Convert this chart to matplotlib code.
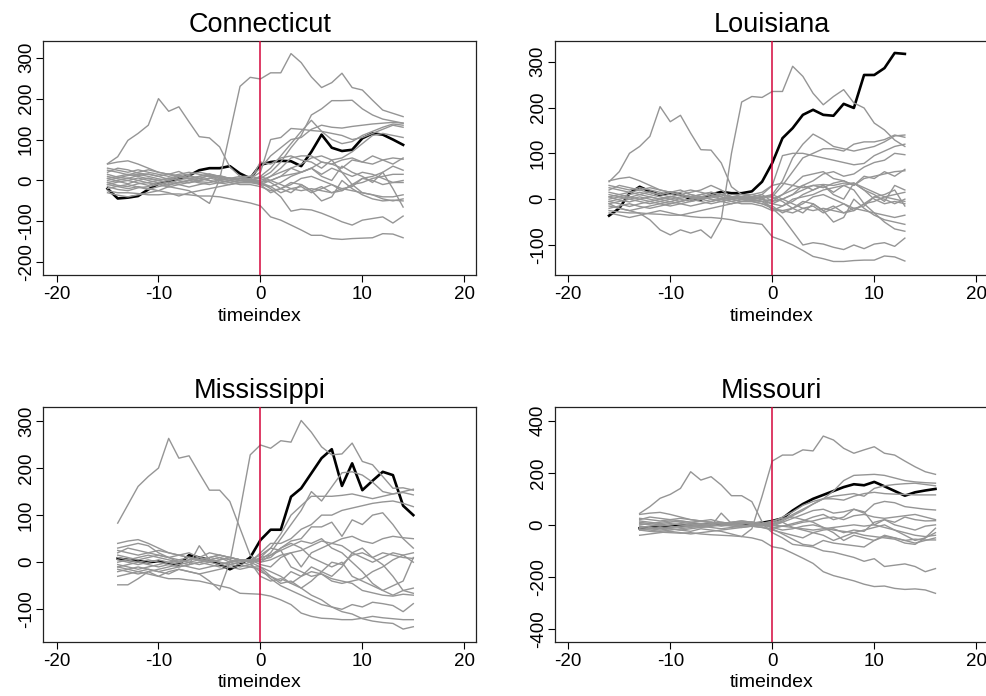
import matplotlib
matplotlib.use("Agg")
import matplotlib.pyplot as plt

plt.rcParams['font.family'] = ['Liberation Sans', 'DejaVu Sans']
plt.rcParams['axes.unicode_minus'] = False

# ---------------- data ----------------
titles = ["Connecticut", "Louisiana", "Mississippi", "Missouri"]
start_index = [-15, -16, -14, -13]          # first timeindex of each panel (30 points each)
xticks = [-20, -10, 0, 10, 20]
yticks_ct = [-200, -100, 0, 100, 200, 300]
yticks_la = [-100, 0, 100, 200, 300]
yticks_ms = [-100, 0, 100, 200, 300]
yticks_mo = [-400, -200, 0, 200, 400]

# Connecticut (t = -15 .. 14)
ct_treated = [-20, -44, -42, -38, -22, -8, -2, 5, 12, 25, 30, 30, 35, 17, 5] + \
             [38, 45, 48, 47, 35, 70, 112, 80, 72, 75, 103, 115, 112, 100, 87]
ct_p01 = [41, 58, 98, 115, 135, 200, 169, 180, 143, 107, 104, 82, 33, 10, 2] + [-5, 0, 10, 15, 20, 30, 45, 40, 50, 55, 45, 40, 50, 55, 52]
ct_p02 = [-10, -15, -20, -15, -20, -25, -15, -20, -25, -40, -56, 3, 116, 230, 252] + [248, 263, 263, 310, 288, 253, 227, 239, 262, 227, 221, 196, 172, 164, 156]
ct_p03 = [-25, -30, -30, -32, -35, -35, -33, -33, -35, -38, -38, -40, -45, -50, -55] + [-62, -89, -97, -109, -121, -134, -134, -142, -144, -142, -141, -140, -130, -131, -140]
ct_p04 = [5, -2, -8, 0, 6, 0, -7, 2, 5, -3, -5, 2, 6, 0, -3] + [-5, -20, -40, -75, -70, -72, -80, -90, -101, -109, -97, -93, -89, -104, -87]
ct_p05 = [15, 8, 5, 12, 16, 10, 3, 10, 6, 0, 5, 12, 5, 0, 2] + [5, 20, 45, 80, 110, 160, 175, 195, 195, 196, 175, 160, 150, 145, 140]
ct_p06 = [-5, -12, -15, -8, -5, 0, 6, 0, -6, 0, 5, 10, 4, 0, 0] + [10, 30, 60, 90, 120, 147, 120, 100, 90, 95, 110, 120, 130, 138, 135]
ct_p07 = [20, 30, 26, 18, 15, 10, 16, 10, 4, 10, 15, 8, 5, 5, 5] + [20, 100, 105, 127, 125, 122, 120, 115, 110, 100, 105, 115, 125, 135, 130]
ct_p08 = [-20, -14, -10, -16, -22, -15, -10, -4, 0, -6, -10, -5, 0, 6, 0] + [0, 10, 20, 30, 40, 55, 60, 50, 55, 70, 90, 110, 115, 110, 105]
ct_p09 = [40, 45, 48, 40, 30, 20, 15, 22, 10, 5, 12, 0, 5, 0, 5] + [-5, 10, 30, 55, 60, 60, 45, 40, 30, 50, 45, 60, 50, 40, 55]
ct_p10 = [10, 4, 0, -6, -12, -5, 0, 6, 12, 5, 0, -6, 0, 5, 0] + [-10, -15, -5, 10, 20, 30, 10, 0, 35, 20, 10, -5, 20, 35, 25]
ct_p11 = [-10, -4, 0, 6, 0, -6, -12, -5, 0, 5, 0, -6, -10, -5, -5] + [-5, -15, -30, -20, -15, -30, -20, -10, -25, -10, 5, 0, -10, -5, 0]
ct_p12 = [0, 6, 12, 15, 10, 4, 0, -6, 0, 5, 12, 5, 0, -5, -5] + [10, 0, -10, -20, -25, -20, -25, -30, -20, -25, -30, -35, -40, -40, -35]
ct_p13 = [-15, -22, -25, -18, -15, -10, -4, -10, -16, -10, -5, 0, -5, -10, -10] + [-15, -25, -20, -30, -10, -25, -50, -40, 0, -20, -35, -45, -50, -48, -50]
ct_p14 = [25, 20, 14, 20, 26, 20, 15, 10, 4, 10, 16, 10, 5, 5, 10] + [5, -5, -20, -10, 5, 10, 0, -10, -20, -15, 5, 10, 20, -20, -65]
ct_p15 = [-5, 0, 6, 0, -6, -10, -16, -10, -5, 0, 6, 0, -5, 0, 5] + [-10, 0, 10, 30, 20, 30, 15, 30, 20, -10, -30, -35, -45, -50, -45]
ct_p16 = [5, 10, 15, 10, 4, 0, 5, 12, 15, 20, 15, 10, 5, 10, 10] + [30, 60, 80, 100, 105, 125, 135, 130, 128, 132, 135, 138, 140, 142, 140]
ct_p17 = [-30, -36, -40, -35, -30, -25, -30, -38, -30, -25, -20, -15, -10, -5, -5] + [-10, -30, -20, -5, -10, -25, -15, -30, -25, -10, -5, 5, 10, 15, 15]
ct_p18 = [30, 25, 20, 26, 20, 15, 10, 15, 20, 15, 10, 5, 0, -5, 0] + [45, 40, 55, 60, 50, 45, 30, 50, 20, 10, 20, 15, 5, -5, -5]

# Louisiana (t = -16 .. 13)
la_treated = [-36, -20, 13, 27, 17, 9, 14, 10, 0, -1, 10, 16, 13, 13, 17, 38] + \
             [79, 133, 155, 184, 195, 184, 182, 208, 199, 271, 271, 286, 319, 317]
la_p01 = [38, 60, 100, 115, 137, 202, 169, 183, 144, 108, 107, 79, 27, 10, 5, 0] + [-5, 0, 10, 20, 30, 25, 35, 40, 30, 45, 50, 55, 60, 62]
la_p02 = [-10, -20, -25, -31, -45, -67, -78, -67, -74, -67, -85, -45, 100, 212, 224, 222] + [235, 235, 290, 268, 231, 206, 224, 239, 210, 199, 166, 151, 129, 115]
la_p03 = [-25, -28, -30, -30, -32, -33, -35, -35, -38, -40, -40, -42, -45, -50, -52, -55] + [-82, -90, -100, -112, -125, -130, -136, -136, -134, -133, -133, -124, -126, -135]
la_p04 = [5, -2, -6, 0, 5, 0, -6, 2, 5, 0, -5, 0, 6, 0, -3, -5] + [-20, -40, -70, -100, -95, -98, -105, -110, -100, -108, -98, -95, -103, -85]
la_p05 = [15, 10, 4, 10, 16, 10, 5, 10, 5, 0, 6, 10, 5, 0, 2, 5] + [10, 40, 90, 120, 142, 130, 115, 110, 105, 110, 115, 125, 138, 140]
la_p06 = [-5, -10, -16, -10, -5, 0, 6, 0, -5, 0, 5, 10, 5, 0, 0, 5] + [5, 30, 60, 90, 100, 110, 110, 105, 120, 125, 125, 130, 140, 135]
la_p07 = [20, 30, 25, 20, 14, 10, 15, 10, 5, 10, 15, 10, 5, 5, 5, 10] + [30, 95, 100, 100, 95, 90, 85, 80, 75, 78, 95, 105, 115, 120]
la_p08 = [-20, -15, -10, -16, -20, -15, -10, -5, 0, -5, -10, -5, 0, 5, 0, -5] + [0, 10, 20, 30, 40, 55, 60, 50, 55, 70, 80, 85, 100, 97]
la_p09 = [40, 45, 48, 40, 30, 20, 15, 20, 10, 5, 10, 0, 5, 0, 5, 10] + [-5, 10, 30, 50, 55, 60, 45, 40, 30, 50, 45, 60, 50, 65]
la_p10 = [10, 5, 0, -5, -10, -5, 0, 5, 10, 5, 0, -5, 0, 5, 0, -5] + [-10, -15, -5, 10, 20, 30, 10, 0, 35, 20, 10, -5, 30, 20]
la_p11 = [-10, -5, 0, 5, 0, -5, -10, -5, 0, 5, 0, -5, -10, -5, -5, -10] + [-20, -25, -30, -20, -15, -30, -20, -10, -25, -10, 5, 0, -10, 0]
la_p12 = [0, 5, 10, 15, 10, 5, 0, -5, 0, 5, 10, 5, 0, -5, -5, 0] + [10, 0, -10, -20, -25, -20, -25, -30, -20, -25, -30, -35, -40, -35]
la_p13 = [-15, -20, -25, -20, -15, -10, -5, -10, -15, -10, -5, 0, -5, -10, -10, -15] + [-25, -25, -20, -30, -10, -25, -50, -40, 0, -20, -35, -45, -50, -55]
la_p14 = [25, 20, 15, 20, 25, 20, 15, 10, 5, 10, 15, 10, 5, 5, 10, 5] + [5, -5, -20, -10, 5, 10, 0, -10, -20, -15, 5, 10, 20, -15]
la_p15 = [-5, 0, 5, 0, -5, -10, -15, -10, -5, 0, 5, 0, -5, 0, 5, 0] + [-10, 0, 10, 30, 20, 30, 15, 30, 20, -10, -30, -50, -65, -70]
la_p16 = [5, 10, 15, 10, 5, 0, 5, 10, 15, 20, 30, 20, 5, 10, 10, 15] + [30, 35, 30, 25, 30, 32, 30, 35, 35, 20, 0, -10, -5, -10]
la_p17 = [-30, -35, -40, -35, -30, -25, -30, -35, -30, -25, -20, -15, -10, -5, -5, -10] + [-15, -30, -20, -5, -10, -25, -15, -30, -25, -10, -5, 5, 10, 15]
la_p18 = [30, 25, 20, 25, 20, 15, 10, 15, 20, 15, 10, 5, 0, -5, 0, 5] + [-25, -15, 0, 5, 10, 20, 25, 30, 35, 25, 15, 5, 0, -5]

# Mississippi (t = -14 .. 15)
ms_treated = [8, 5, 3, 0, 2, -3, -5, 15, 10, 5, -5, -15, -5, 10] + \
             [47, 69, 69, 139, 157, 189, 221, 240, 162, 210, 153, 173, 192, 185, 120, 100]
ms_p01 = [83, 122, 161, 182, 200, 263, 221, 226, 189, 153, 153, 129, 72, 15] + [0, 5, 15, 20, 25, 35, 45, 40, 50, 55, 45, 40, 50, 55, 52, 50]
ms_p02 = [-10, -15, -20, -15, -20, -25, -15, -20, -25, -40, -59, 0, 110, 228] + [249, 242, 258, 255, 301, 276, 245, 228, 230, 253, 214, 207, 182, 157, 158, 153]
ms_p03 = [-48, -48, -35, -20, -30, -35, -35, -38, -40, -45, -50, -55, -66, -67] + [-68, -72, -80, -90, -108, -115, -119, -120, -122, -122, -119, -115, -118, -120, -122, -122]
ms_p04 = [5, 0, -5, 0, 5, 0, -5, 0, 5, 0, -5, 0, 5, 0] + [10, 30, 60, 100, 120, 140, 140, 140, 142, 145, 140, 135, 140, 145, 150, 155]
ms_p05 = [15, 10, 5, 10, 15, 10, 5, 10, 5, 0, 5, 10, 5, 0] + [5, 20, 50, 80, 110, 150, 130, 160, 190, 192, 185, 170, 150, 145, 148, 143]
ms_p06 = [-5, -10, -15, -10, -5, 0, 5, 0, -5, 0, 5, 10, 5, 0] + [20, 40, 40, 50, 70, 80, 100, 100, 110, 115, 120, 125, 128, 130, 125, 118]
ms_p07 = [20, 30, 25, 20, 15, 10, 15, 10, 5, 10, 15, 10, 5, 5] + [0, 15, 30, 45, 50, 75, 75, 85, 55, 90, 80, 100, 105, 80, 50, 30]
ms_p08 = [-20, -15, -10, -15, -20, -15, -10, -5, 0, -5, -10, -5, 0, 5] + [-5, -10, 10, 20, -10, 20, 30, 40, 35, 20, 30, 10, 20, 15, 10, 8]
ms_p09 = [40, 45, 48, 40, 30, 20, 15, 20, 10, 5, 10, 0, 5, 0] + [-10, -30, -40, -20, -30, -10, -20, -30, -10, 20, 10, 0, 10, 20, 15, 0]
ms_p10 = [10, 5, 0, -5, -10, -5, 0, 5, 10, 5, 0, -5, 0, 5] + [5, 10, 30, 40, 30, 10, 0, -10, 0, -30, -40, -50, -60, -70, -60, -55]
ms_p11 = [-10, -5, 0, 5, 0, -5, -10, -5, 0, 5, 0, -5, -10, -5] + [-20, -30, -45, -40, -55, -40, -20, 0, -5, 15, 20, 10, -5, -30, -60, -66]
ms_p12 = [0, 5, 10, 15, 10, 5, 0, -5, 35, 5, 10, 5, 0, -5] + [10, 15, 25, 35, 45, 40, 50, 30, 20, 0, -20, -45, -60, -50, -40, 10]
ms_p13 = [-15, -20, -25, -20, -15, -10, -5, -10, -15, -10, -5, 0, -5, -10] + [-10, -20, -30, -45, -55, -70, -80, -95, -105, -110, -120, -125, -128, -130, -142, -137]
ms_p14 = [25, 20, 15, 20, 25, 20, 15, 10, 5, 10, 15, 10, 5, 5] + [15, 30, 25, -10, -20, -30, -25, -35, -40, -45, -60, -65, -70, -72, -68, -70]
ms_p15 = [-30, -25, -20, -25, -30, -20, -15, -20, -25, -20, -15, -10, -15, -10] + [-15, -35, -50, -60, -70, -80, -90, -95, -100, -90, -95, -85, -88, -92, -105, -88]
ms_p16 = [30, 35, 40, 35, 20, 10, 0, 5, 10, 20, 15, 10, 5, 0] + [-30, -40, -35, -45, -30, -20, -25, -40, -45, -40, -35, -20, -10, 5, 15, 20]

# Missouri (t = -13 .. 16)
mo_treated = [-13, -10, -8, -5, -3, 0, 2, 0, 3, 5, 3, 5, 8] + \
             [15, 25, 55, 80, 100, 115, 130, 145, 156, 152, 165, 148, 130, 112, 125, 132, 138]
mo_p01 = [44, 70, 102, 117, 140, 204, 172, 185, 153, 112, 112, 89, 12] + [-13, -5, 0, 10, 15, 25, 30, 20, 35, 40, 30, 25, 30, 35, 40, 30, 20]
mo_p02 = [-10, -15, -20, -15, -20, -25, -15, -20, -25, -35, -45, -15, 110] + [245, 268, 268, 288, 284, 341, 326, 294, 275, 288, 300, 275, 268, 245, 223, 204, 194]
mo_p03 = [-20, -25, -28, -30, -32, -30, -35, -38, -40, -42, -45, -50, -60] + [-84, -91, -109, -128, -148, -180, -195, -205, -215, -228, -237, -235, -244, -248, -246, -250, -263]
mo_p04 = [5, 0, -5, 0, 5, 0, -5, 0, 5, 0, -5, 0, 5] + [-30, -50, -75, -80, -85, -100, -105, -115, -125, -140, -130, -160, -155, -150, -160, -180, -168]
mo_p05 = [15, 10, 5, 10, 15, 10, 5, 10, 5, 0, 5, 10, 5] + [5, 20, 40, 60, 80, 100, 130, 170, 190, 192, 194, 190, 180, 170, 165, 162, 160]
mo_p06 = [-5, -10, -15, -10, -5, 0, 5, 0, -5, 0, 5, 10, 5] + [10, 30, 50, 75, 90, 100, 110, 115, 120, 110, 140, 150, 155, 158, 160, 155, 150]
mo_p07 = [20, 30, 25, 20, 15, 10, 15, 10, 5, 10, 15, 10, 5] + [0, 15, 35, 55, 80, 100, 100, 95, 110, 120, 125, 120, 118, 117, 115, 115, 115]
mo_p08 = [-20, -15, -10, -15, -20, -15, -10, -5, 0, -5, -10, -5, 0] + [-5, 10, 25, 40, 55, 60, 45, 50, 60, 45, 80, 90, 85, 70, 65, 60, 57]
mo_p09 = [40, 45, 48, 40, 30, 20, 15, 20, 10, 5, 10, 0, 5] + [-10, -5, 5, 15, 30, 40, 20, 30, 60, 50, 0, 20, 10, 30, 20, 15, 16]
mo_p10 = [10, 5, 0, -5, -10, -5, 0, 5, 10, 5, 0, -5, 0] + [5, 10, -10, -20, -30, -20, -15, -30, -20, -25, 10, 20, 0, -10, -20, -5, 0]
mo_p11 = [-10, -5, 0, 5, 0, -5, -10, -5, 0, 5, 0, -5, -10] + [-20, -30, -40, -50, -30, -40, -60, -45, -30, -20, -10, 0, -20, -40, -60, -50, -13]
mo_p12 = [0, 5, 10, 15, 10, 5, 0, -5, 45, 5, 10, 5, 0] + [-10, -20, -15, -5, 0, -10, -20, -25, -30, -40, -45, -50, -55, -70, -75, -50, -30]
mo_p13 = [-15, -20, -25, -20, -15, -10, -5, -10, -15, -10, -5, 0, -5] + [0, -5, -10, -15, -20, -15, -10, -5, 0, -5, 0, -10, -20, -30, -40, -45, -40]
mo_p14 = [25, 20, 15, 20, 25, 20, 15, 10, 5, 10, 15, 10, 5] + [15, 25, 30, 20, 10, -10, -30, -60, -40, -50, -60, -45, -50, -60, -55, -58, -58]
mo_p15 = [-40, -35, -30, -25, -30, -35, -30, -25, -20, -15, -10, -5, -10] + [-15, -35, -55, -75, -80, -60, -70, -75, -80, -85, -60, -40, -50, -60, -70, -60, -50]

ct_placebos = [ct_p01, ct_p02, ct_p03, ct_p04, ct_p05, ct_p06, ct_p07, ct_p08, ct_p09,
               ct_p10, ct_p11, ct_p12, ct_p13, ct_p14, ct_p15, ct_p16, ct_p17, ct_p18]
la_placebos = [la_p01, la_p02, la_p03, la_p04, la_p05, la_p06, la_p07, la_p08, la_p09,
               la_p10, la_p11, la_p12, la_p13, la_p14, la_p15, la_p16, la_p17, la_p18]
ms_placebos = [ms_p01, ms_p02, ms_p03, ms_p04, ms_p05, ms_p06, ms_p07, ms_p08,
               ms_p09, ms_p10, ms_p11, ms_p12, ms_p13, ms_p14, ms_p15, ms_p16]
mo_placebos = [mo_p01, mo_p02, mo_p03, mo_p04, mo_p05, mo_p06, mo_p07, mo_p08,
               mo_p09, mo_p10, mo_p11, mo_p12, mo_p13, mo_p14, mo_p15]

treated = [ct_treated, la_treated, ms_treated, mo_treated]
placebos = [ct_placebos, la_placebos, ms_placebos, mo_placebos]
yticks = [yticks_ct, yticks_la, yticks_ms, yticks_mo]

# ---------------- layout / style ----------------
W, H = 987, 696
fig = plt.figure(figsize=(W / 100, H / 100), dpi=100)
boxes = [(43.3, 40.7, 476, 275), (555, 40.7, 988, 275),
         (43.3, 407.3, 476, 641.7), (555, 407.3, 988, 641.7)]
ylims = [(-231, 341.5), (-165.5, 345.8), (-168.8, 329), (-448.8, 451.5)]

for k in range(4):
    l, t, r, b = boxes[k]
    ax = fig.add_axes([l / W, 1 - b / H, (r - l) / W, (b - t) / H])
    x = list(range(start_index[k], start_index[k] + len(treated[k])))
    ax.plot(x, treated[k], color='black', lw=1.9, zorder=2)
    for s in placebos[k]:
        assert len(s) == len(x), (titles[k], len(s))
        ax.plot(x, s, color='#959595', lw=1.0, zorder=3)
    ax.axvline(0, color='#d4073c', lw=1.1, zorder=4)
    ax.set_xlim(-21.3, 21.15)
    ax.set_ylim(*ylims[k])
    ax.set_xticks(xticks)
    ax.set_yticks(yticks[k])
    ax.tick_params(direction='out', length=4.8, width=0.8, labelsize=13.5, colors='black')
    ax.tick_params(axis='y', pad=1.2)
    ax.tick_params(axis='x', pad=3.4)
    for lab in ax.get_yticklabels():
        lab.set_rotation(90)
        lab.set_va('center')
    for sp in ax.spines.values():
        sp.set_linewidth(0.9)
        sp.set_color('#222222')
    ax.set_xlabel('timeindex', fontsize=14, labelpad=3)
    ax.set_title(titles[k], fontsize=19.5, pad=6.5)

fig.savefig('out.png', dpi=100)
